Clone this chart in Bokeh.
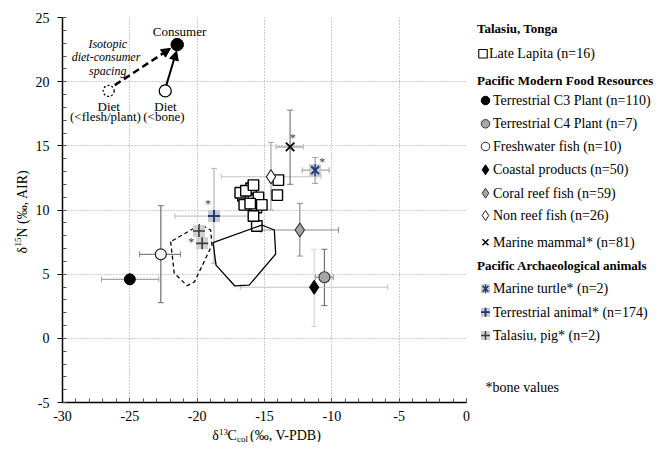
import math
from bokeh.plotting import figure
from bokeh.models import (Range1d, SingleIntervalTicker, ColumnDataSource, Whisker, TeeHead,
                          Arrow, NormalHead)
from bokeh.layouts import row, column
from bokeh.core.properties import value
from bokeh.embed import file_html
from bokeh.resources import INLINE

FONT = "Liberation Serif"

# ---------------- data ----------------
lapita_x = [-16.2, -15.9, -16.6, -15.6, -16.0, -15.45, -15.57, -15.82, -16.5, -16.06, -15.2,
            -16.8, -16.38, -15.82, -13.97, -14.05]
lapita_y = [11.0, 10.8, 11.1, 10.2, 11.7, 10.98, 8.75, 9.53, 10.4, 10.5, 10.4,
            11.35, 11.5, 11.94, 12.33, 11.16]

c3_x, c3_y = [-25.0], [4.6]
c3_xlo, c3_xhi = [-27.1], [-22.85]

c4_x, c4_y = [-10.55], [4.76]
c4_xlo, c4_xhi = [-11.2], [-9.9]
c4_ylo, c4_yhi = [2.55], [6.94]

fw_x, fw_y = [-22.7], [6.55]
fw_xlo, fw_xhi = [-24.27], [-21.24]
fw_ylo, fw_yhi = [2.78], [10.33]

coast_x, coast_y = [-11.31], [3.98]
coast_xlo, coast_xhi = [-16.8], [-5.85]
coast_ylo, coast_yhi = [0.92], [6.94]

coral_x, coral_y = [-12.38], [8.44]
coral_xlo, coral_xhi = [-15.26], [-9.5]
coral_ylo, coral_yhi = [6.41], [10.52]

nonreef_x, nonreef_y = [-14.52], [12.59]
nonreef_xlo, nonreef_xhi = [-18.2], [-10.8]
nonreef_ylo, nonreef_yhi = [10.0], [15.26]

mammal_x, mammal_y = [-13.1], [14.92]
mammal_xlo, mammal_xhi = [-14.15], [-12.1]
mammal_ylo, mammal_yhi = [12.0], [17.78]

turtle_x, turtle_y = [-11.24], [13.1]
turtle_xlo, turtle_xhi = [-12.2], [-10.2]
turtle_ylo, turtle_yhi = [12.07], [14.1]

tanimal_x, tanimal_y = [-18.75], [9.53]
tanimal_xlo, tanimal_xhi = [-21.65], [-15.85]
tanimal_ylo, tanimal_yhi = [5.85], [13.24]

pig_x, pig_y = [-19.87, -19.63], [8.36, 7.4]

star_x = [-12.9, -10.72, -19.19, -20.44]
star_y = [15.6, 13.75, 10.46, 7.53]

hull_solid_x = [-18.82, -18.6, -17.2, -16.14, -14.17, -14.27, -15.2]
hull_solid_y = [7.45, 5.7, 4.08, 4.14, 6.57, 8.44, 8.83]
hull_dash_x = [-21.97, -21.7, -20.74, -20.2, -18.9, -19.0, -19.75]
hull_dash_y = [7.53, 5.07, 4.1, 4.4, 7.27, 8.44, 8.88]

# schematic inset
consumer_xy = (-21.48, 22.89)
diet_flesh_xy = (-26.57, 19.28)
diet_bone_xy = (-22.37, 19.28)
inset_texts = ["Consumer", "Diet", "(<flesh/plant)", "Diet", "(<bone)"]
inset_tx = [-21.31, -26.57, -26.81, -22.35, -22.47]
inset_ty = [23.92, 18.09, 17.26, 18.09, 17.26]
italic_texts = ["Isotopic", "diet-consumer", "spacing"]
italic_tx = [-26.64, -26.77, -26.64]
italic_ty = [22.97, 21.93, 20.86]

x_ticks = [-30, -25, -20, -15, -10, -5, 0]
y_ticks = [-5, 0, 5, 10, 15, 20, 25]

legend_heads = ["Talasiu, Tonga", "Pacific Modern Food Resources", "Pacific Archaeological animals"]
legend_labels = ["Late Lapita (n=16)", "Terrestrial C3 Plant (n=110)", "Terrestrial C4 Plant (n=7)",
                 "Freshwater fish (n=10)", "Coastal products (n=50)", "Coral  reef fish (n=59)",
                 "Non reef fish  (n=26)", "Marine mammal* (n=81)", "Marine turtle* (n=2)",
                 "Terrestrial animal* (n=174)", "Talasiu, pig* (n=2)"]
legend_note = "*bone values"

# ---------------- layout constants ----------------
ROW_H = 424
MAIN_W = 438
TOP, BOT = 17, 22            # frame spans canvas y 17 .. 402
FR_TOP, FR_BOT = TOP, ROW_H - BOT

# ---------------- main figure ----------------
p = figure(width=MAIN_W, height=ROW_H, x_range=Range1d(-30, 0), y_range=Range1d(-5, 25),
           min_border_left=28, min_border_right=4, min_border_top=TOP, min_border_bottom=BOT,
           toolbar_location=None, output_backend="svg")
p.outline_line_color = None
p.background_fill_color = "white"

for ax in (p.xaxis[0], p.yaxis[0]):
    ax.axis_line_color = "black"
    ax.axis_line_width = 1.5
    ax.major_tick_line_color = "black"
    ax.minor_tick_line_color = "#555555"
    ax.minor_tick_in = 4
    ax.minor_tick_out = 0
    ax.major_label_text_font = FONT
    ax.major_label_text_font_size = "14px"
    ax.major_label_text_color = "black"
p.xaxis[0].ticker = SingleIntervalTicker(interval=5, num_minor_ticks=5)
p.yaxis[0].ticker = SingleIntervalTicker(interval=5, num_minor_ticks=5)
p.xaxis[0].major_label_overrides = {t: str(t) for t in x_ticks}
p.yaxis[0].major_label_overrides = {t: str(t) for t in y_ticks}
p.xaxis[0].major_tick_in = 4
p.xaxis[0].major_tick_out = 0
p.xaxis[0].major_label_standoff = 8
p.yaxis[0].major_tick_in = 0
p.yaxis[0].major_tick_out = 5
p.yaxis[0].major_label_standoff = 8

for g in (p.xgrid[0], p.ygrid[0]):
    g.grid_line_color = "#9a9a9a"
    g.grid_line_dash = "1 2"
    g.grid_line_width = 1


def whisk(xs, ys, lo, hi, dim, color, width=1.2):
    if dim == "width":
        src = ColumnDataSource(dict(base=ys, lower=lo, upper=hi))
    else:
        src = ColumnDataSource(dict(base=xs, lower=lo, upper=hi))
    w = Whisker(source=src, base="base", lower="lower", upper="upper", dimension=dim,
                line_color=color, line_width=width,
                upper_head=TeeHead(size=6, line_color=color, line_width=1),
                lower_head=TeeHead(size=6, line_color=color, line_width=1))
    p.add_layout(w)


whisk(c3_x, c3_y, c3_xlo, c3_xhi, "width", "#a6a6a6")
whisk(c4_x, c4_y, c4_xlo, c4_xhi, "width", "#8c8c8c")
whisk(c4_x, c4_y, c4_ylo, c4_yhi, "height", "#707070")
whisk(fw_x, fw_y, fw_xlo, fw_xhi, "width", "#808080")
whisk(fw_x, fw_y, fw_ylo, fw_yhi, "height", "#707070")
whisk(coast_x, coast_y, coast_xlo, coast_xhi, "width", "#c4c4c4")
whisk(coast_x, coast_y, coast_ylo, coast_yhi, "height", "#d6d6d6")
whisk(coral_x, coral_y, coral_xlo, coral_xhi, "width", "#8c8c8c")
whisk(coral_x, coral_y, coral_ylo, coral_yhi, "height", "#8c8c8c")
whisk(nonreef_x, nonreef_y, nonreef_xlo, nonreef_xhi, "width", "#c4c4c4")
whisk(nonreef_x, nonreef_y, nonreef_ylo, nonreef_yhi, "height", "#a6a6a6")
whisk(mammal_x, mammal_y, mammal_xlo, mammal_xhi, "width", "#c0c0c0", 2.2)
whisk(mammal_x, mammal_y, mammal_ylo, mammal_yhi, "height", "#7a7a7a")
whisk(turtle_x, turtle_y, turtle_xlo, turtle_xhi, "width", "#a0a0a0")
whisk(turtle_x, turtle_y, turtle_ylo, turtle_yhi, "height", "#a0a0a0")
whisk(tanimal_x, tanimal_y, tanimal_xlo, tanimal_xhi, "width", "#c4c4c4")
whisk(tanimal_x, tanimal_y, tanimal_ylo, tanimal_yhi, "height", "#b4b4b4")

# Late Lapita squares
p.scatter(lapita_x, lapita_y, marker="square", size=10.5, fill_color="white",
          line_color="black", line_width=1.4)

# hulls
p.patch(hull_solid_x, hull_solid_y, fill_color=None, line_color="black", line_width=1.3)
p.patch(hull_dash_x, hull_dash_y, fill_color=None, line_color="black", line_width=1.3,
        line_dash="4 3")

# food resources
p.scatter(c3_x, c3_y, marker="circle", size=11, fill_color="black", line_color="black")
p.scatter(c4_x, c4_y, marker="circle", size=11, fill_color="#a6a6a6", line_color="#333333",
          line_width=1.2)
p.scatter(fw_x, fw_y, marker="circle", size=11, fill_color="#f4f4f4", line_color="#222222",
          line_width=1.2)
p.scatter(coast_x, coast_y, marker="diamond", size=14, fill_color="black", line_color="black")
p.scatter(coral_x, coral_y, marker="diamond", size=14, fill_color="#a6a6a6", line_color="#333333",
          line_width=1.2)
p.scatter(nonreef_x, nonreef_y, marker="diamond", size=14, fill_color="white", line_color="#222222",
          line_width=1.2)
p.scatter(mammal_x, mammal_y, marker="x", size=12, line_color="black", line_width=1.8)

# archaeological animals
p.scatter(turtle_x, turtle_y, marker="square", size=12, fill_color="#c8c8c8", line_color=None)
p.scatter(turtle_x, turtle_y, marker="x", size=11, line_color="#1f3a78", line_width=2)
p.scatter(turtle_x, turtle_y, marker="dash", angle=math.pi / 2, size=12, line_color="#1f3a78",
          line_width=1.5)
p.scatter(tanimal_x, tanimal_y, marker="square", size=12, fill_color="#c8c8c8", line_color=None)
p.scatter(tanimal_x, tanimal_y, marker="cross", size=12, line_color="#1f3a78", line_width=2)
p.scatter(pig_x, pig_y, marker="square", size=12, fill_color="#d0d0d0", line_color=None)
p.scatter(pig_x, pig_y, marker="cross", size=12, line_color="#3a3a3a", line_width=1.6)

p.text(star_x, star_y, text=["*"] * len(star_x), text_font=value(FONT), text_font_size="12px",
       text_color="#404040", text_align="center", text_baseline="middle")

# schematic inset
p.scatter([diet_flesh_xy[0]], [diet_flesh_xy[1]], marker="circle", size=11, fill_color="white",
          line_color="black", line_width=1.3, line_dash="2 2")
p.scatter([diet_bone_xy[0]], [diet_bone_xy[1]], marker="circle", size=12, fill_color="white",
          line_color="black", line_width=1.3)
p.scatter([consumer_xy[0]], [consumer_xy[1]], marker="circle", size=12.5, fill_color="black",
          line_color="black")
p.add_layout(Arrow(end=NormalHead(size=9, fill_color="black", line_color="black"),
                   x_start=diet_flesh_xy[0] + 0.45, y_start=diet_flesh_xy[1] + 0.45,
                   x_end=consumer_xy[0] - 0.5, y_end=consumer_xy[1] - 0.3,
                   line_width=2.5, line_dash="7 4", line_color="black"))
p.add_layout(Arrow(end=NormalHead(size=9, fill_color="black", line_color="black"),
                   x_start=diet_bone_xy[0] + 0.08, y_start=diet_bone_xy[1] + 0.45,
                   x_end=consumer_xy[0] - 0.05, y_end=consumer_xy[1] - 0.5,
                   line_width=2, line_color="black"))
p.text(inset_tx, inset_ty, text=inset_texts, text_font=value(FONT), text_font_size="13px",
       text_color="black", text_align="center", text_baseline="middle")
p.text(italic_tx, italic_ty, text=italic_texts, text_font=value(FONT), text_font_size="12px",
       text_font_style="italic", text_color="black", text_align="center", text_baseline="middle")

# ---------------- y-axis title figure (pixel coordinates) ----------------
YW = 32
ylab = figure(width=YW, height=ROW_H, x_range=Range1d(0, YW), y_range=Range1d(FR_BOT, FR_TOP),
              toolbar_location=None, output_backend="svg", x_axis_location=None,
              y_axis_location=None, min_border_left=0, min_border_right=0,
              min_border_top=TOP, min_border_bottom=BOT)
ylab.grid.visible = False
ylab.outline_line_color = None
A = math.pi / 2
yl_parts = ["δ", "15", "N", "(‰, AIR)"]
yl_sizes = ["14px", "9px", "14px", "14px"]
yl_x = [21.7, 17.5, 21.7, 21.7]
yl_y = [253.0, 246.0, 237.0, 223.5]
for t, s, xx, yy in zip(yl_parts, yl_sizes, yl_x, yl_y):
    ylab.text([xx], [yy], text=[t], angle=A, text_font=value(FONT), text_font_size=s,
              text_color="black", text_align="left", text_baseline="middle")

# ---------------- legend figure (pixel coordinates) ----------------
LW = 192
lg = figure(width=LW, height=ROW_H, x_range=Range1d(0, LW), y_range=Range1d(FR_BOT, FR_TOP),
            toolbar_location=None, output_backend="svg", x_axis_location=None,
            y_axis_location=None, min_border_left=0, min_border_right=0,
            min_border_top=TOP, min_border_bottom=BOT)
lg.grid.visible = False
lg.outline_line_color = None

head_y = [28.3, 80.0, 265.0]
item_y = [53.3, 100.0, 123.3, 146.0, 169.3, 192.7, 215.0, 241.7, 288.3, 311.7, 335.0]
mx = [12.5] + [15.0] * 10
tx = [18.5] + [22.5] * 10

lg.text([6.5] * 3, head_y, text=legend_heads, text_font=value(FONT), text_font_size="13px",
        text_font_style="bold", text_color="black", text_baseline="middle")
lg.text(tx, item_y, text=legend_labels, text_font=value(FONT), text_font_size="14px",
        text_color="black", text_baseline="middle")
lg.text([15.0], [386.7], text=[legend_note], text_font=value(FONT), text_font_size="14px",
        text_color="black", text_baseline="middle")

lg.scatter([mx[0]], [item_y[0]], marker="square", size=8.5, fill_color="white",
           line_color="black", line_width=1.1)
lg.scatter([mx[1]], [item_y[1]], marker="circle", size=8.5, fill_color="black", line_color="black")
lg.scatter([mx[2]], [item_y[2]], marker="circle", size=8.5, fill_color="#a6a6a6", line_color="#333333")
lg.scatter([mx[3]], [item_y[3]], marker="circle", size=8.5, fill_color="white", line_color="#222222")
lg.scatter([mx[4]], [item_y[4]], marker="diamond", size=10, fill_color="black", line_color="black")
lg.scatter([mx[5]], [item_y[5]], marker="diamond", size=10, fill_color="#a6a6a6", line_color="#333333")
lg.scatter([mx[6]], [item_y[6]], marker="diamond", size=10, fill_color="white", line_color="#222222")
lg.scatter([mx[7]], [item_y[7]], marker="x", size=8.5, line_color="black", line_width=1.5)
lg.scatter([mx[8]], [item_y[8]], marker="square", size=9, fill_color="#c8c8c8", line_color=None)
lg.scatter([mx[8]], [item_y[8]], marker="x", size=8, line_color="#1f3a78", line_width=1.6)
lg.scatter([mx[8]], [item_y[8]], marker="dash", angle=math.pi / 2, size=9, line_color="#1f3a78",
           line_width=1.2)
lg.scatter([mx[9]], [item_y[9]], marker="square", size=9, fill_color="#c8c8c8", line_color=None)
lg.scatter([mx[9]], [item_y[9]], marker="cross", size=9, line_color="#1f3a78", line_width=1.8)
lg.scatter([mx[10]], [item_y[10]], marker="square", size=9, fill_color="#d0d0d0", line_color=None)
lg.scatter([mx[10]], [item_y[10]], marker="cross", size=9, line_color="#3a3a3a", line_width=1.4)

# ---------------- x-axis title figure ----------------
XW, XH = YW + MAIN_W + LW, 18
xlab = figure(width=XW, height=XH, x_range=Range1d(0, XW), y_range=Range1d(XH, 0),
              toolbar_location=None, output_backend="svg", x_axis_location=None,
              y_axis_location=None, min_border=0)
xlab.grid.visible = False
xlab.outline_line_color = None
xl_parts = ["δ", "13", "C", "col", "(‰, V-PDB)"]
xl_sizes = ["14px", "9px", "14px", "9px", "14px"]
xl_x = [211.7, 218.5, 227.0, 236.5, 249.5]
xl_y = [11.0, 7.0, 11.0, 14.0, 11.0]
for t, s, xx, yy in zip(xl_parts, xl_sizes, xl_x, xl_y):
    xlab.text([xx], [yy], text=[t], text_font=value(FONT), text_font_size=s,
              text_color="black", text_align="left", text_baseline="middle")

layout = column(row(ylab, p, lg), xlab)
open("out.html", "w").write(file_html(layout, INLINE))
